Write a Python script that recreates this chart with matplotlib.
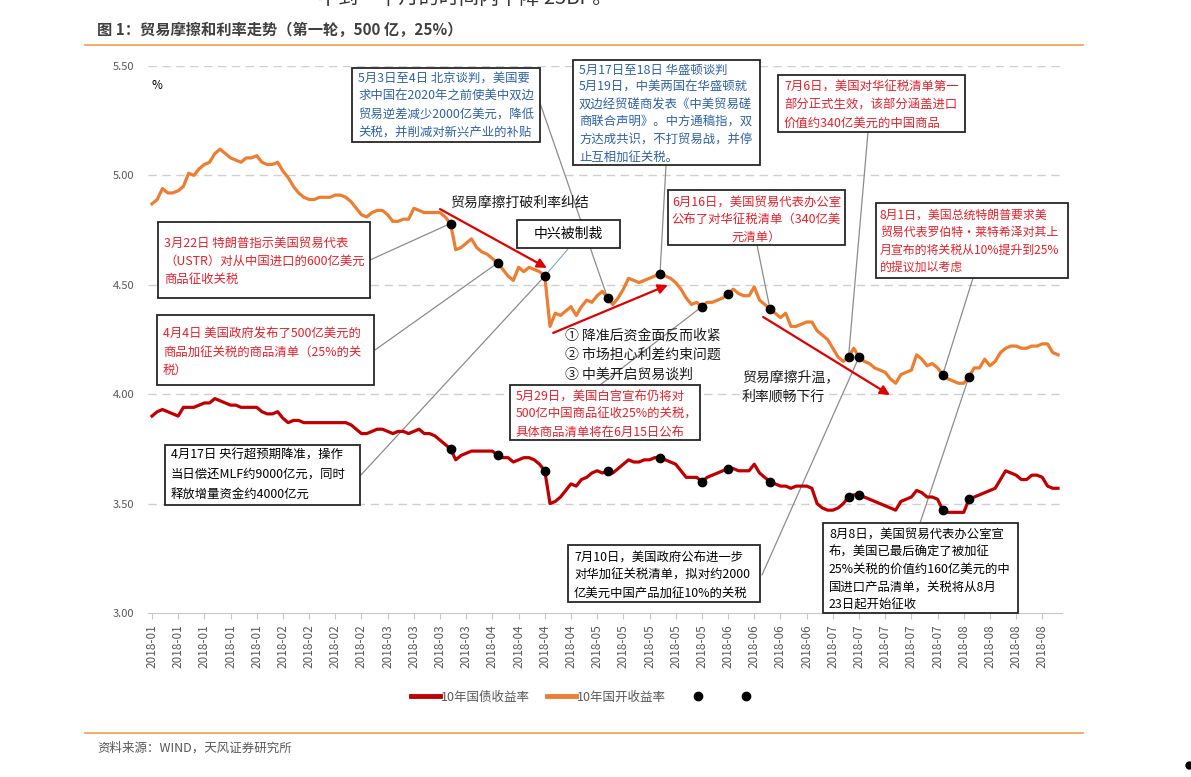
import matplotlib.pyplot as plt
import numpy as np
import pandas as pd
from matplotlib.lines import Line2D
from matplotlib.patches import Rectangle

plt.rcParams['font.family'] = ['Noto Sans CJK SC', 'DejaVu Sans']

# business days shown on the category axis
dates = pd.bdate_range('2018-01-02', '2018-08-31')

# 10年国开收益率 (%)
cdb = [4.87, 4.89, 4.94, 4.92, 4.92, 4.93, 4.95, 5.01, 5.00, 5.03,
       5.05, 5.06, 5.10, 5.12, 5.10, 5.08, 5.07, 5.06, 5.08, 5.08,
       5.09, 5.06, 5.05, 5.05, 5.06, 5.02, 4.99, 4.95, 4.92, 4.90,
       4.89, 4.89, 4.90, 4.90, 4.90, 4.91, 4.91, 4.90, 4.88, 4.85,
       4.82, 4.81, 4.83, 4.84, 4.84, 4.82, 4.79, 4.79, 4.80, 4.80,
       4.85, 4.84, 4.83, 4.83, 4.83, 4.83, 4.81, 4.78, 4.66, 4.67,
       4.69, 4.71, 4.67, 4.65, 4.64, 4.62, 4.60, 4.57, 4.54, 4.52,
       4.58, 4.56, 4.58, 4.57, 4.56, 4.54, 4.31, 4.37, 4.36, 4.38,
       4.40, 4.36, 4.40, 4.43, 4.42, 4.45, 4.47, 4.44, 4.41, 4.44,
       4.48, 4.53, 4.52, 4.51, 4.52, 4.53, 4.54, 4.55, 4.54, 4.53,
       4.51, 4.48, 4.44, 4.41, 4.42, 4.40, 4.42, 4.42, 4.43, 4.44,
       4.46, 4.48, 4.46, 4.45, 4.45, 4.49, 4.43, 4.41, 4.39, 4.37,
       4.35, 4.37, 4.31, 4.31, 4.32, 4.33, 4.33, 4.29, 4.27, 4.25,
       4.21, 4.17, 4.15, 4.17, 4.21, 4.17, 4.15, 4.14, 4.12, 4.11,
       4.10, 4.07, 4.05, 4.09, 4.10, 4.11, 4.18, 4.16, 4.13, 4.14,
       4.12, 4.09, 4.07, 4.06, 4.05, 4.05, 4.08, 4.12, 4.12, 4.16,
       4.13, 4.15, 4.19, 4.21, 4.22, 4.22, 4.21, 4.21, 4.22, 4.22,
       4.23, 4.23, 4.19, 4.18]

# 10年国债收益率 (%)
cgb = [3.90, 3.92, 3.93, 3.92, 3.91, 3.90, 3.94, 3.94, 3.94, 3.95,
       3.96, 3.96, 3.98, 3.97, 3.96, 3.95, 3.95, 3.94, 3.94, 3.94,
       3.94, 3.92, 3.91, 3.91, 3.92, 3.89, 3.87, 3.88, 3.88, 3.87,
       3.87, 3.87, 3.87, 3.87, 3.87, 3.87, 3.87, 3.87, 3.86, 3.84,
       3.82, 3.82, 3.83, 3.84, 3.84, 3.83, 3.82, 3.83, 3.83, 3.82,
       3.83, 3.84, 3.82, 3.82, 3.81, 3.79, 3.77, 3.75, 3.70, 3.72,
       3.73, 3.74, 3.74, 3.74, 3.74, 3.74, 3.72, 3.71, 3.71, 3.69,
       3.70, 3.71, 3.71, 3.70, 3.68, 3.65, 3.50, 3.51, 3.53, 3.56,
       3.59, 3.58, 3.61, 3.62, 3.64, 3.65, 3.64, 3.65, 3.64, 3.66,
       3.68, 3.70, 3.69, 3.69, 3.70, 3.70, 3.71, 3.71, 3.70, 3.69,
       3.68, 3.65, 3.62, 3.62, 3.62, 3.60, 3.62, 3.63, 3.64, 3.65,
       3.66, 3.66, 3.65, 3.65, 3.65, 3.68, 3.64, 3.62, 3.60, 3.59,
       3.58, 3.58, 3.57, 3.58, 3.58, 3.58, 3.57, 3.50, 3.48, 3.47,
       3.47, 3.48, 3.50, 3.53, 3.54, 3.54, 3.53, 3.52, 3.51, 3.50,
       3.49, 3.48, 3.47, 3.51, 3.52, 3.53, 3.56, 3.55, 3.53, 3.53,
       3.52, 3.47, 3.46, 3.46, 3.46, 3.46, 3.52, 3.53, 3.54, 3.55,
       3.56, 3.57, 3.61, 3.65, 3.64, 3.63, 3.61, 3.61, 3.63, 3.63,
       3.62, 3.58, 3.57, 3.57]

event_dates = ['2018-03-22', '2018-04-04', '2018-04-17', '2018-05-03',
               '2018-05-17', '2018-05-29', '2018-06-05', '2018-06-15',
               '2018-07-06', '2018-07-10', '2018-08-01', '2018-08-08']

W, H = 1191, 777
RED_TXT = '#e8202a'
BLUE_TXT = '#2f62a8'


def fxy(px, py):
    # pixel position (top-left origin) -> figure fraction
    return px / W, 1 - py / H


fig = plt.figure(figsize=(W / 100, H / 100), dpi=100)
ax = fig.add_axes([148 / W, 1 - 613 / H, (1062 - 148) / W, (613 - 66) / H])

x = np.arange(len(dates))
cdb = np.array(cdb)
cgb = np.array(cgb)
ev = dates.get_indexer(pd.to_datetime(event_dates))

ax.plot(x, cgb, color='#c00000', lw=2.3, zorder=3)
ax.plot(x, cdb, color='#ed7d31', lw=2.3, zorder=3)
ax.plot(ev, cdb[ev], 'o', color='black', ms=6, zorder=6)
ax.plot(ev, cgb[ev], 'o', color='black', ms=6, zorder=6)

ax.set_xlim(-0.76, 173.76)
ax.set_ylim(3.0, 5.5)
ax.set_yticks(np.arange(3.0, 5.51, 0.5))
ax.set_yticklabels([f'{v:.2f}' for v in np.arange(3.0, 5.51, 0.5)])
ax.set_xticks(x[::5])
ax.set_xticklabels(dates[::5].strftime('%Y-%m'), rotation=90)
for v in np.arange(3.5, 5.51, 0.5):
    ax.axhline(v, color='#d0d0d0', lw=1, ls=(0, (6, 4)), zorder=1)
for s in ['top', 'right', 'left']:
    ax.spines[s].set_visible(False)
ax.spines['bottom'].set_color('#c8c8c8')
ax.tick_params(axis='y', length=0, pad=10, labelsize=8, labelcolor='#595959')
ax.tick_params(axis='x', length=4, color='#c8c8c8', pad=4, labelsize=8.5,
               labelcolor='#595959')
ax.text(0.004, 0.965, '%', transform=ax.transAxes, fontsize=8.5, va='center')

# trend arrows
arrows = [((55.0, 4.846), (75.4, 4.577)),
          ((76.6, 4.280), (98.5, 4.499)),
          ((116.7, 4.353), (140.9, 3.996))]
for tail, head in arrows:
    ax.annotate('', xy=head, xytext=tail,
                arrowprops=dict(arrowstyle='-|>', color='#e00000', lw=1.6,
                                mutation_scale=14, shrinkA=0, shrinkB=0),
                zorder=4)

# connectors: event date -> box anchor (pixels)
links = [('2018-03-22', 370, 260), ('2018-04-04', 375, 350),
         ('2018-04-17', 360, 476), ('2018-05-03', 540, 103),
         ('2018-05-17', 666, 165), ('2018-05-29', 600, 385),
         ('2018-06-15', 757, 245), ('2018-07-06', 868, 132),
         ('2018-07-10', 762, 575), ('2018-08-01', 973, 278),
         ('2018-08-08', 920, 523)]
for d, bx, by in links:
    i = dates.get_loc(pd.Timestamp(d))
    ax.annotate('', xy=(i, cdb[i]), xytext=fxy(bx, by),
                textcoords='figure fraction',
                arrowprops=dict(arrowstyle='-', color='#8c8c8c', lw=0.9,
                                shrinkA=0, shrinkB=0), zorder=2)
i = dates.get_loc(pd.Timestamp('2018-04-17'))
ax.annotate('', xy=(i, cdb[i]), xytext=fxy(568, 249),
            textcoords='figure fraction',
            arrowprops=dict(arrowstyle='-', color='#7fa7d8', lw=0.8,
                            shrinkA=0, shrinkB=0), zorder=2)


def box(x0, y0, x1, y1, lines, color, first=12, dy=18, align='left', fs=8.9,
        padx=6):
    fig.add_artist(Rectangle(fxy(x0, y1), (x1 - x0) / W, (y1 - y0) / H,
                             transform=fig.transFigure, fc='white',
                             ec='#262626', lw=1.3, zorder=4))
    for k, t in enumerate(lines):
        if align == 'center':
            px, ha = (x0 + x1) / 2, 'center'
        else:
            px, ha = x0 + padx, 'left'
        fig.text(*fxy(px, y0 + first + k * dy), t, color=color, fontsize=fs,
                 ha=ha, va='center', zorder=5)


box(352, 68, 540, 142, ['5月3日至4日 北京谈判，美国要',
                        '求中国在2020年之前使美中双边',
                        '贸易逆差减少2000亿美元，降低',
                        '关税，并削减对新兴产业的补贴'], BLUE_TXT, first=10)
box(573, 60, 760, 165, ['5月17日至18日 华盛顿谈判',
                        '5月19日，中美两国在华盛顿就',
                        '双边经贸磋商发表《中美贸易磋',
                        '商联合声明》。中方通稿指，双',
                        '方达成共识，不打贸易战，并停',
                        '止互相加征关税。'], BLUE_TXT, first=10, dy=17.4)
box(778, 75, 965, 132, ['7月6日，美国对华征税清单第一',
                        '部分正式生效，该部分涵盖进口',
                        '价值约340亿美元的中国商品'], RED_TXT)
box(517, 220, 620, 248, ['中兴被制裁'], 'black', first=14, align='center',
    fs=10)
box(158, 222, 370, 298, ['3月22日 特朗普指示美国贸易代表',
                         '（USTR）对从中国进口的600亿美元',
                         '商品征收关税'], RED_TXT, first=21)
box(157, 315, 374, 385, ['4月4日 美国政府发布了500亿美元的',
                         '商品加征关税的商品清单（25%的关',
                         '税）'], RED_TXT, first=19)
box(165, 445, 360, 505, ['4月17日 央行超预期降准，操作',
                         '当日偿还MLF约9000亿元，同时',
                         '释放增量资金约4000亿元'], 'black', first=10, dy=19.5)
box(668, 190, 845, 245, ['6月16日，美国贸易代表办公室',
                         '公布了对华征税清单（340亿美',
                         '元清单）'], RED_TXT, align='center', dy=17.5)
box(876, 203, 1068, 278, ['8月1日，美国总统特朗普要求美',
                          '贸易代表罗伯特·莱特希泽对其上',
                          '月宣布的将关税从10%提升到25%',
                          '的提议加以考虑'], RED_TXT, first=12, dy=17.5,
    fs=8.6, padx=4)
box(510, 385, 700, 440, ['5月29日，美国白宫宣布仍将对',
                         '500亿中国商品征收25%的关税，',
                         '具体商品清单将在6月15日公布'], RED_TXT, dy=17.5)
box(568, 545, 760, 602, ['7月10日，美国政府公布进一步',
                         '对华加征关税清单，拟对约2000',
                         '亿美元中国产品加征10%的关税'], 'black', first=13,
    dy=17.5)
box(823, 523, 1018, 613, ['8月8日，美国贸易代表办公室宣',
                          '布，美国已最后确定了被加征',
                          '25%关税的价值约160亿美元的中',
                          '国进口产品清单，关税将从8月',
                          '23日起开始征收'], 'black', first=11, dy=17.8)

# free annotations
fig.text(*fxy(450, 203), '贸易摩擦打破利率纠结', fontsize=10, va='center',
         color='#1a1a1a')
for k, t in enumerate(['① 降准后资金面反而收紧', '② 市场担心利差约束问题',
                       '③ 中美开启贸易谈判']):
    fig.text(*fxy(565, 335 + k * 20), t, fontsize=10, va='center',
             color='#1a1a1a')
fig.text(*fxy(742, 377), '贸易摩擦升温，', fontsize=10, va='center',
         color='#1a1a1a')
fig.text(*fxy(742, 397), '利率顺畅下行', fontsize=10, va='center',
         color='#1a1a1a')

# header / footer
fig.text(*fxy(318, -2), '不到一个月的时间内下降 25BP。', fontsize=14.5,
         va='center', color='#333333')
fig.text(*fxy(97, 30), '图 1：贸易摩擦和利率走势（第一轮，500 亿，25%）',
         fontsize=11, fontweight='bold', va='center', color='#404040')
fig.add_artist(Line2D([85 / W, 1083 / W], [1 - 45 / H] * 2, color='#f2a65a',
                      lw=1.3))
fig.add_artist(Line2D([85 / W, 1083 / W], [1 - 733 / H] * 2, color='#f2a65a',
                      lw=1.3))
fig.text(*fxy(97, 748), '资料来源：WIND，天风证券研究所', fontsize=9,
         va='center', color='#595959')
fig.add_artist(Line2D([1189 / W], [1 - 765 / H], marker='o', color='black',
                      ms=5))

dot = Line2D([], [], ls='none', marker='o', color='black', ms=6)
h1 = Line2D([], [], color='#c00000', lw=3.5)
h2 = Line2D([], [], color='#ed7d31', lw=3.5)
fig.legend([h1, h2, dot, dot], ['10年国债收益率', '10年国开收益率', '', ''],
           loc='center', bbox_to_anchor=fxy(586, 697), ncol=4, frameon=False,
           fontsize=9, handlelength=2.3, handletextpad=0.1, columnspacing=1.4,
           labelcolor='#595959')

fig.savefig('out.png', dpi=100)
